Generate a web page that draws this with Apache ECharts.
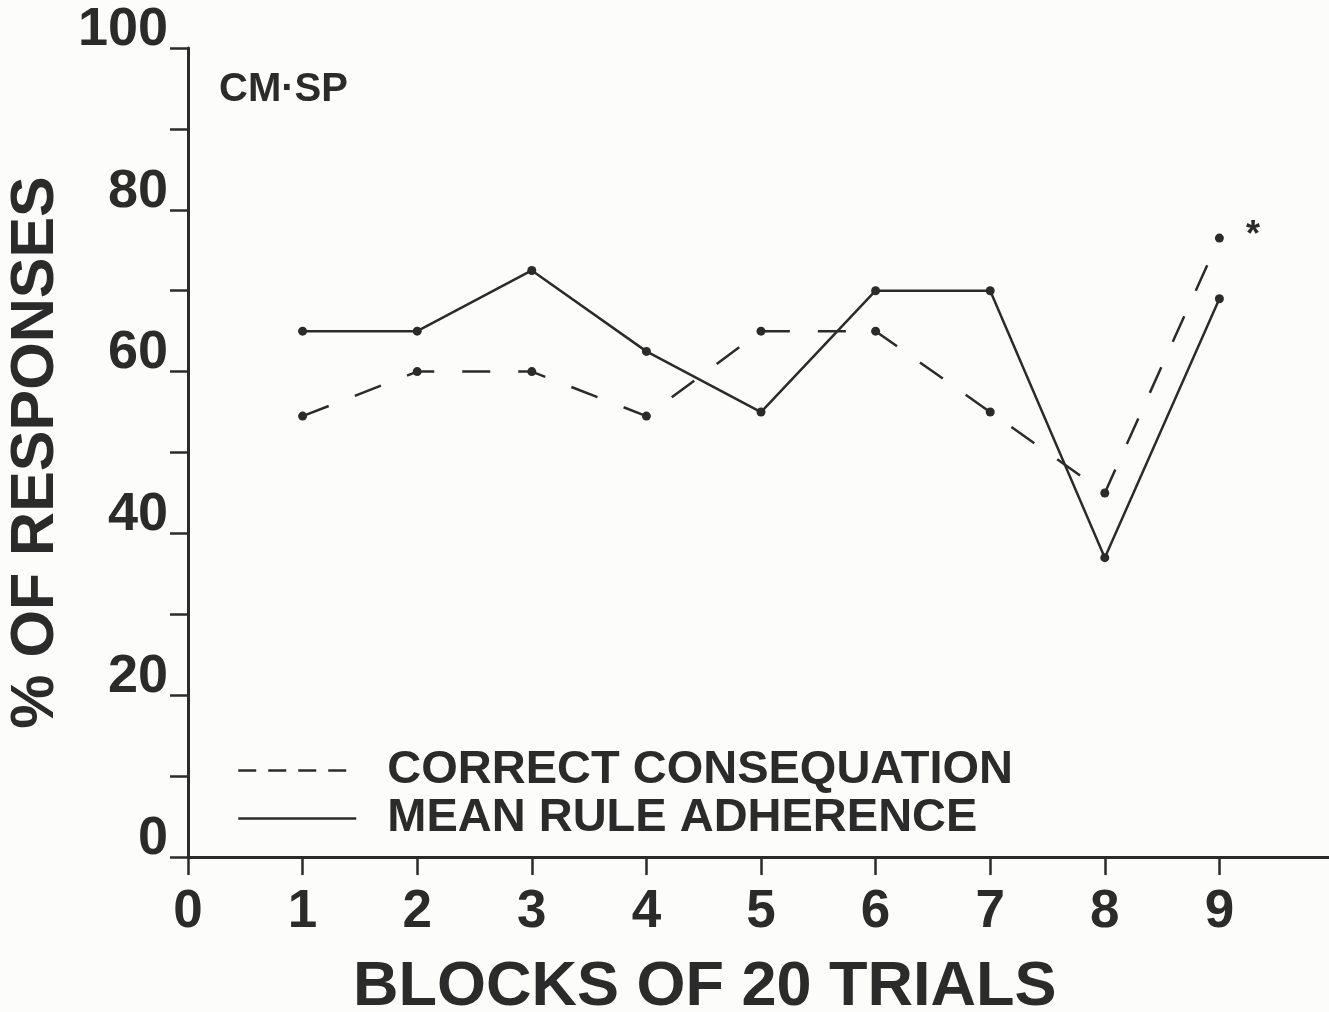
<!DOCTYPE html>
<html>
<head>
<meta charset="utf-8">
<script src="https://cdn.jsdelivr.net/npm/echarts@6/dist/echarts.min.js"></script>
<style>
  html, body { margin: 0; padding: 0; background: #fcfcfb; }
  #chart { width: 1329px; height: 1012px; }
</style>
</head>
<body>
<div id="chart"></div>
<script>
// blocks of 20 trials
const blocks = [1, 2, 3, 4, 5, 6, 7, 8, 9];
// % of responses
const correctConsequation = [54.5, 60, 60, 54.5, 65, 65, 55, 45, 76.5];
const meanRuleAdherence = [65, 65, 72.5, 62.5, 55, 70, 70, 37, 69];
const yLabels = [0, 20, 40, 60, 80, 100];

const ink = '#2b2b2b';
const font = '"Liberation Sans", Arial, sans-serif';

const chart = echarts.init(document.getElementById('chart'));

function pairs(vals) {
  return blocks.map((b, i) => [b, vals[i]]);
}

const dashedData = pairs(correctConsequation);
// asterisk beside the last block of the dashed series
dashedData[dashedData.length - 1] = {
  value: dashedData[dashedData.length - 1],
  label: {
    show: true, formatter: '*', position: 'right', distance: 22, offset: [0, -2],
    color: ink, fontSize: 36, fontWeight: 'bold', fontFamily: font
  }
};

chart.setOption({
  backgroundColor: '#fcfcfb',
  animation: false,
  title: [
    {
      text: 'CM·SP', left: 214, top: 65,
      textStyle: { color: ink, fontSize: 40, fontWeight: 'bold', fontFamily: font }
    },
    {
      text: 'BLOCKS OF 20 TRIALS', left: 348, top: 951,
      textStyle: { color: ink, fontSize: 63, fontWeight: 'bold', fontFamily: font, lineHeight: 63 }
    }
  ],
  legend: {
    orient: 'vertical',
    left: 232, top: 742,
    itemWidth: 118, itemHeight: 10, itemGap: 1,
    itemStyle: { opacity: 0 },
    textStyle: {
      color: ink, fontSize: 47, fontWeight: 'bold', fontFamily: font,
      lineHeight: 46, padding: [0, 0, 0, 26]
    },
    data: [
      { name: 'CORRECT CONSEQUATION', lineStyle: { type: [18, 12], width: 2.5 } },
      { name: 'MEAN RULE ADHERENCE', lineStyle: { width: 2.5 } }
    ]
  },
  grid: {
    left: 188, width: 1146, top: 48, bottom: 155,
    containLabel: false, outerBoundsMode: 'none'
  },
  xAxis: {
    type: 'value', min: 0, max: 10, interval: 1,
    axisLine: { lineStyle: { color: ink, width: 3 } },
    axisTick: { show: true, length: 18, lineStyle: { color: ink, width: 2.5 } },
    splitLine: { show: false },
    axisLabel: {
      color: ink, fontSize: 53, fontWeight: 'bold', fontFamily: font,
      lineHeight: 50, margin: 30,
      formatter: v => (v <= 9 ? String(v) : '')
    }
  },
  yAxis: {
    type: 'value', min: 0, max: 100, interval: 10,
    name: '% OF RESPONSES', nameLocation: 'middle', nameRotate: 90, nameGap: 112,
    nameTextStyle: { color: ink, fontSize: 61, fontWeight: 'bold', fontFamily: font },
    axisLine: { show: true, lineStyle: { color: ink, width: 3 } },
    axisTick: { show: true, length: 18, lineStyle: { color: ink, width: 2.5 } },
    splitLine: { show: false },
    axisLabel: {
      color: ink, fontSize: 54, fontWeight: 'bold', fontFamily: font,
      verticalAlign: 'bottom', lineHeight: 36, margin: 20,
      formatter: v => (yLabels.indexOf(v) >= 0 ? String(v) : '')
    }
  },
  series: [
    {
      name: 'CORRECT CONSEQUATION', type: 'line', data: dashedData,
      symbol: 'circle', symbolSize: 9,
      lineStyle: { color: ink, width: 2.5, type: [28, 28] },
      itemStyle: { color: ink }
    },
    {
      name: 'MEAN RULE ADHERENCE', type: 'line', data: pairs(meanRuleAdherence),
      symbol: 'circle', symbolSize: 9,
      lineStyle: { color: ink, width: 2.5 },
      itemStyle: { color: ink }
    }
  ]
});
</script>
</body>
</html>
